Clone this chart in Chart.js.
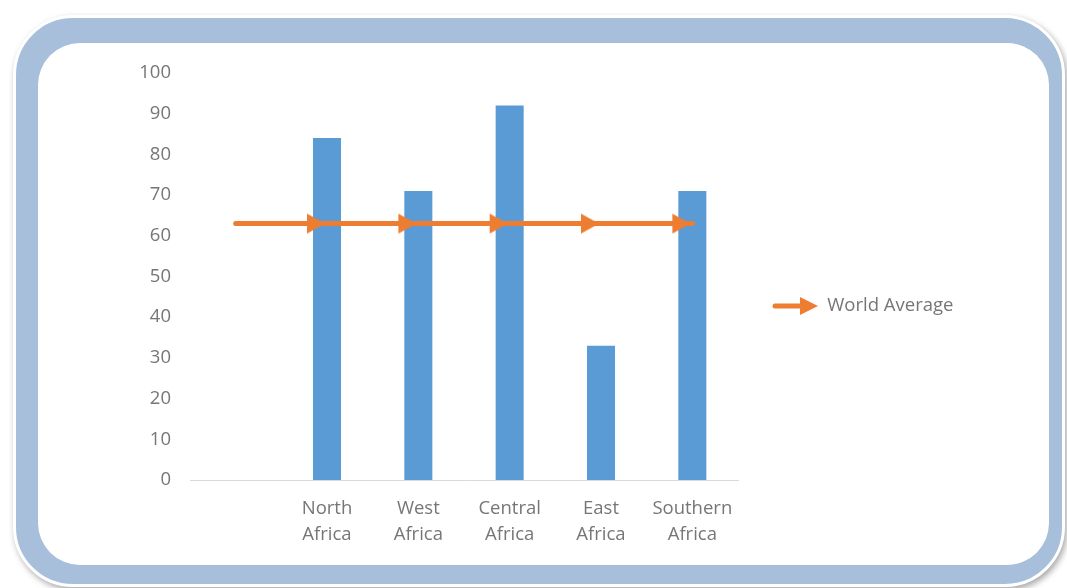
<!DOCTYPE html>
<html>
<head>
<meta charset="utf-8">
<script src="https://cdn.jsdelivr.net/npm/chart.js@4.4.1/dist/chart.umd.min.js"></script>
<style>
  html, body { margin: 0; padding: 0; background: #ffffff; overflow: hidden; }
  #stage { position: relative; width: 1067px; height: 588px; }
  #outer {
    position: absolute; left: 13px; top: 15px; width: 1046px; height: 566px;
    background: #a7bfdb; border: 3px solid #ffffff; border-radius: 60px;
    box-shadow: 2px 3px 6px rgba(0,0,0,0.35);
  }
  #inner {
    position: absolute; left: 38px; top: 43px; width: 1011px; height: 522px;
    background: #ffffff; border-radius: 42px;
  }
  #wrap { position: absolute; left: 0; top: 0; width: 1067px; height: 588px; }
</style>
</head>
<body>
<div id="stage">
  <div id="outer"></div>
  <div id="inner"></div>
  <div id="wrap"><canvas id="c"></canvas></div>
</div>
<script>
// ---- data ----
const categories = ['', 'North Africa', 'West Africa', 'Central Africa', 'East Africa', 'Southern Africa'];
const regionValues = [null, 84, 71, 92, 33, 71];
const worldAverage = [63, 63, 63, 63, 63, 63];
const yTicks = [0, 10, 20, 30, 40, 50, 60, 70, 80, 90, 100];
const seriesNames = ['Regions', 'World Average'];

const BLUE = '#5b9bd5';
const ORANGE = '#ed7d31';
const TEXT = '#767676';
const FONT_FAMILY = '"Open Sans", "DejaVu Sans", sans-serif';
const FONT_SIZE = 18.5;

// arrow marker for data points (tip just left of the point centre)
function makeArrow() {
  const c = document.createElement('canvas');
  c.width = 48; c.height = 22;
  const g = c.getContext('2d');
  g.fillStyle = ORANGE;
  g.beginPath();
  g.moveTo(4, 1); g.lineTo(22, 11); g.lineTo(4, 21); g.closePath();
  g.fill();
  return c;
}
// legend symbol: line with arrow head
function makeLegendArrow() {
  const c = document.createElement('canvas');
  c.width = 46; c.height = 22;
  const g = c.getContext('2d');
  g.strokeStyle = ORANGE; g.lineWidth = 5; g.lineCap = 'round';
  g.beginPath(); g.moveTo(3, 11); g.lineTo(32, 11); g.stroke();
  g.fillStyle = ORANGE;
  g.beginPath(); g.moveTo(28, 2); g.lineTo(46, 11); g.lineTo(28, 20); g.closePath(); g.fill();
  return c;
}
const arrowImg = makeArrow();
const legendImg = makeLegendArrow();

// legend geometry: left edge of legend = right edge of plot (738)
const LEGEND_PAD = 34, LEGEND_BOX = 46;
const mctx = document.createElement('canvas').getContext('2d');
mctx.font = FONT_SIZE + 'px ' + FONT_FAMILY;
const legendTextW = mctx.measureText(seriesNames[1]).width;
const legendW = LEGEND_PAD + LEGEND_BOX + FONT_SIZE / 2 + legendTextW + 10;
const padRight = Math.max(0, 1067 - 738 - legendW);

Chart.defaults.font.family = FONT_FAMILY;
Chart.defaults.font.size = FONT_SIZE;
Chart.defaults.color = TEXT;

new Chart(document.getElementById('c'), {
  data: {
    labels: categories,
    datasets: [
      {
        type: 'bar',
        label: seriesNames[0],
        data: regionValues,
        backgroundColor: BLUE,
        borderWidth: 0,
        barPercentage: 0.307,
        categoryPercentage: 1.0,
        order: 2
      },
      {
        type: 'line',
        label: seriesNames[1],
        data: worldAverage,
        borderColor: ORANGE,
        backgroundColor: ORANGE,
        borderWidth: 5,
        borderCapStyle: 'round',
        tension: 0,
        pointStyle: arrowImg,
        pointRadius: worldAverage.map((v, i) => i === 0 ? 0 : 6),
        pointHoverRadius: worldAverage.map((v, i) => i === 0 ? 0 : 6),
        order: 1
      }
    ]
  },
  options: {
    responsive: true,
    maintainAspectRatio: false,
    animation: false,
    events: [],
    layout: { padding: { left: 0, top: 24, right: padRight, bottom: 0 } },
    scales: {
      x: {
        type: 'category',
        offset: true,
        grid: { display: false, drawTicks: false },
        border: { display: true, color: '#d9d9d9', width: 1 },
        ticks: {
          padding: 16,
          color: TEXT,
          font: { size: FONT_SIZE, lineHeight: 26 / FONT_SIZE },
          maxRotation: 0,
          autoSkip: false,
          callback: function (value, index) {
            const s = categories[index];
            return s ? s.split(' ') : '';
          }
        },
        afterFit: function (s) { s.height = 108; s.paddingLeft = 0; s.paddingRight = 0; }
      },
      y: {
        min: 0,
        max: 100,
        grid: { display: false, drawTicks: false },
        border: { display: false },
        afterBuildTicks: function (s) { s.ticks = yTicks.map(v => ({ value: v })); },
        ticks: { padding: 19, color: TEXT, font: { size: FONT_SIZE } },
        afterFit: function (s) { s.width = 190; s.paddingTop = 73; s.paddingBottom = 0; }
      }
    },
    plugins: {
      tooltip: { enabled: false },
      title: { display: false },
      legend: {
        display: true,
        position: 'right',
        align: 'center',
        labels: {
          usePointStyle: true,
          pointStyle: legendImg,
          pointStyleWidth: LEGEND_BOX,
          padding: LEGEND_PAD,
          color: TEXT,
          font: { size: FONT_SIZE },
          filter: function (item) { return item.datasetIndex === 1; }
        }
      }
    }
  }
});
</script>
</body>
</html>
